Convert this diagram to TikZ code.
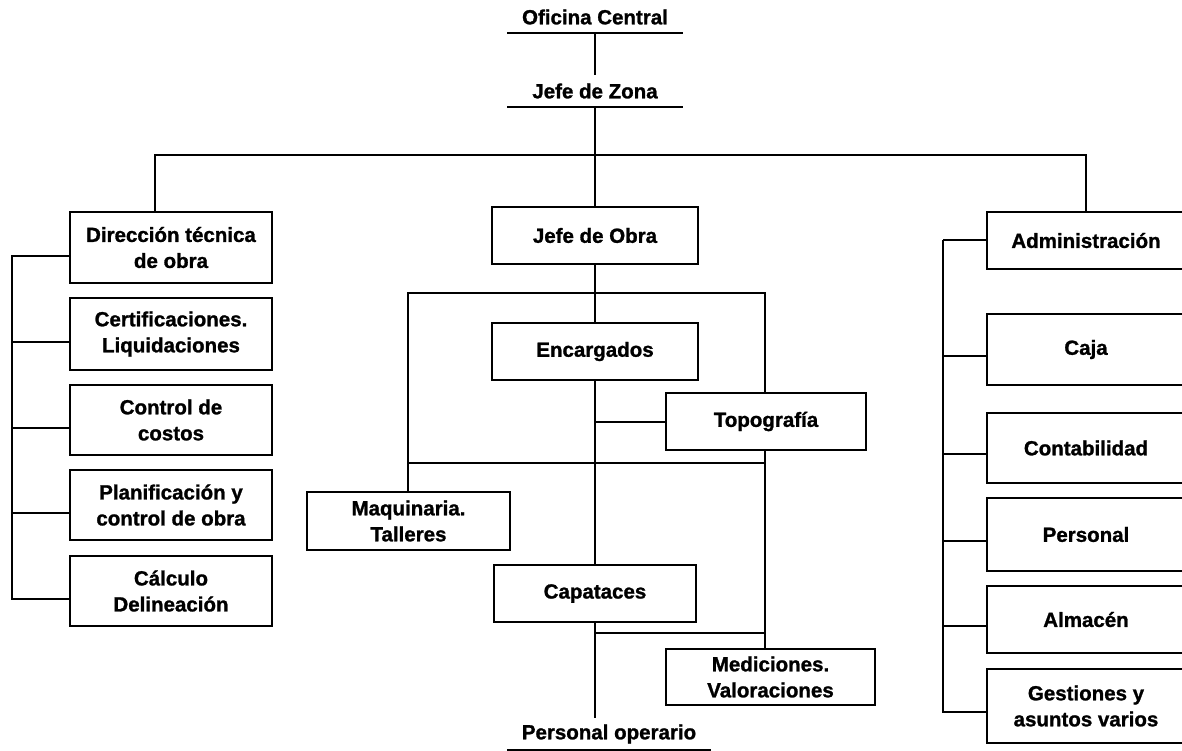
\documentclass[tikz,border=0pt]{standalone}
\usepackage{fontspec}
\setmainfont{Liberation Sans}[BoldFeatures={FakeBold=1.2}]
\pgfdeclarelayer{bg}
\pgfsetlayers{bg,main}
\begin{document}
\begin{tikzpicture}[x=1pt,y=-1pt,
  line width=2pt,
  unit/.style={draw, fill=white, line width=2pt, inner sep=0pt, align=center,
    font=\fontsize{20.5}{26}\selectfont\bfseries},
  lbl/.style={inner sep=0pt, minimum height=30pt, anchor=south,
    font=\fontsize{20.5}{26}\selectfont\bfseries},
  link/.style={line width=2pt}]

\useasboundingbox (0,0) rectangle (1182,751);

% headings with rule underneath
\node[lbl, minimum width=174pt] (ofc) at (595,33) {Oficina Central};
\node[lbl, minimum width=174pt] (jz) at (595,107) {Jefe de Zona};
\node[lbl, minimum width=202pt] (po) at (609,750) {Personal operario};

% left column: technical direction
\node[unit, minimum width=202pt, minimum height=71pt] (dto)  at (171,247.5) {Dirección técnica\\de obra};
\node[unit, minimum width=202pt, minimum height=72pt] (cert) at (171,334) {Certificaciones.\\Liquidaciones};
\node[unit, minimum width=202pt, minimum height=70pt] (ctrl) at (171,420) {Control de\\costos};
\node[unit, minimum width=202pt, minimum height=70pt] (plan) at (171,505) {Planificación y\\control de obra};
\node[unit, minimum width=202pt, minimum height=70pt] (calc) at (171,591) {Cálculo\\Delineación};

% centre column: site
\node[unit, minimum width=206pt, minimum height=57pt] (jo)   at (595,235.5) {Jefe de Obra};
\node[unit, minimum width=206pt, minimum height=57pt] (enc)  at (595,351.5) {Encargados};
\node[unit, minimum width=200pt, minimum height=57pt] (topo) at (766,421.5) {Topografía};
\node[unit, minimum width=203pt, minimum height=58pt] (maq)  at (408.5,521) {Maquinaria.\\Talleres};
\node[unit, minimum width=202pt, minimum height=57pt] (cap)  at (595,593.5) {Capataces};
\node[unit, minimum width=209pt, minimum height=56pt] (med)  at (770.5,677) {Mediciones.\\Valoraciones};

% right column: administration
\node[unit, minimum width=198pt, minimum height=57pt] (adm)  at (1086,240.5) {Administración};
\node[unit, minimum width=198pt, minimum height=71pt] (caja) at (1086,349.5) {Caja};
\node[unit, minimum width=198pt, minimum height=70pt] (cont) at (1086,448) {Contabilidad};
\node[unit, minimum width=198pt, minimum height=73pt] (pers) at (1086,534.5) {Personal};
\node[unit, minimum width=198pt, minimum height=67pt] (alm)  at (1086,619.5) {Almacén};
\node[unit, minimum width=198pt, minimum height=74pt] (gest) at (1086,706) {Gestiones y\\asuntos varios};

% bus points
\coordinate (hl) at (155,155);
\coordinate (hr) at (1086,155);
\coordinate (lb) at (12,255);
\coordinate (rb) at (943,240.5);
\coordinate (ja) at (408,293);
\coordinate (jb) at (765,293);
\coordinate (ka) at (408,463);
\coordinate (kb) at (765,463);
\coordinate (mb) at (765,633);

\begin{pgfonlayer}{bg}
  \fill[white] (0,0) rectangle (1182,751);
  % heading rules
  \draw[link] (ofc.south west) -- (ofc.south east);
  \draw[link] (jz.south west) -- (jz.south east);
  \draw[link] (po.south west) -- (po.south east);
  % main spine
  \draw[link] (ofc.south) -- (jz.north);
  \draw[link] (jz.south) -- (jo.north);
  \draw[link] (dto.north -| hl) -- (hl) -- (hr) -- (adm.north);
  % left bus
  \foreach \n in {dto,cert,ctrl,plan,calc}
    \draw[link] (lb) |- ([yshift=-8pt]\n.west);
  % site tree
  \draw[link] (jo.south) -- (enc.north);
  \draw[link] (maq.north -| ja) -- (ja) -- (jb) -- (jb |- med.north);
  \draw[link] (enc.south) -- (cap.north);
  \draw[link] (topo.west) -- (topo.west -| enc.south);
  \draw[link] (ka) -- (kb);
  \draw[link] (mb) -- (mb -| cap.south);
  \draw[link] (cap.south) -- (cap.south |- po.north);
  % right bus
  \draw[link] (rb) -- (adm.west);
  \foreach \n in {caja,cont,pers,alm,gest}
    \draw[link] (rb) |- ([yshift=-6pt]\n.west);
\end{pgfonlayer}
\end{tikzpicture}
\end{document}
